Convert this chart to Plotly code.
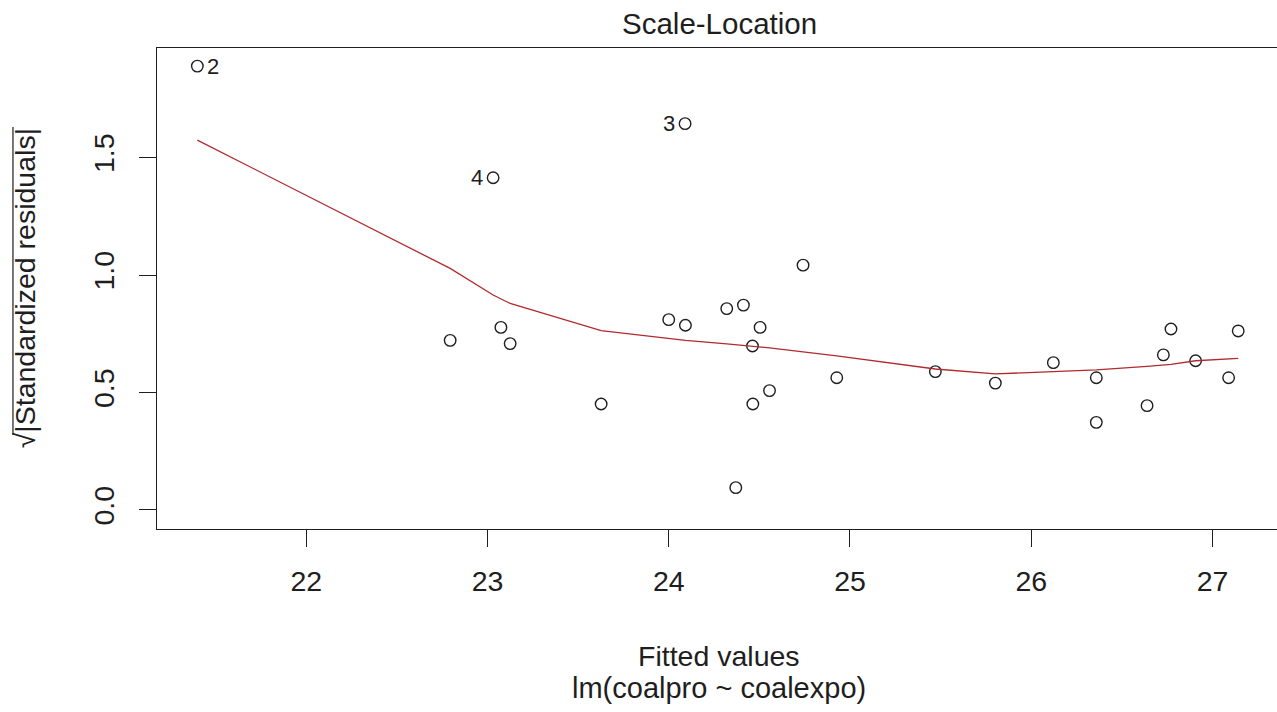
import plotly.graph_objects as go

# Fitted values and sqrt(|standardized residuals|) for lm(coalpro ~ coalexpo)
fitted = [21.399, 22.794, 23.031, 23.074, 23.125, 23.627, 24.000, 24.090, 24.092,
          24.320, 24.370, 24.412, 24.462, 24.464, 24.504, 24.556, 24.741, 24.927,
          25.471, 25.802, 26.122, 26.359, 26.359, 26.639, 26.729, 26.771, 26.907,
          27.089, 27.142]
sqrt_abs_std_resid = [1.889, 0.722, 1.414, 0.777, 0.708, 0.451, 0.810, 1.644, 0.786,
                      0.857, 0.095, 0.872, 0.698, 0.451, 0.777, 0.508, 1.042, 0.563,
                      0.589, 0.540, 0.627, 0.563, 0.373, 0.444, 0.660, 0.770, 0.635,
                      0.563, 0.762]
# lowess smoother evaluated at the sorted fitted values
smooth = [1.574, 1.028, 0.915, 0.898, 0.879, 0.763, 0.730, 0.722, 0.722,
          0.707, 0.704, 0.701, 0.698, 0.698, 0.695, 0.690, 0.673, 0.656,
          0.600, 0.579, 0.589, 0.596, 0.596, 0.611, 0.617, 0.620, 0.635,
          0.641, 0.645]

# Largest residuals, identified by case number
id_index = [0, 2, 7]
id_text = ["2", "4", "3"]
id_side = [1, -1, -1]

x_ticks = [22, 23, 24, 25, 26, 27]
y_ticks = [0.0, 0.5, 1.0, 1.5]
y_ticktext = ["0.0", "0.5", "1.0", "1.5"]

FONT = "Liberation Sans, Arial, sans-serif"
INK = "#1e1e1e"

fig = go.Figure()

fig.add_trace(go.Scatter(
    x=fitted, y=sqrt_abs_std_resid, mode="markers",
    marker=dict(symbol="circle-open", size=11.5, color=INK, line=dict(width=1.4, color=INK)),
    hoverinfo="x+y", showlegend=False,
))
fig.add_trace(go.Scatter(
    x=fitted, y=smooth, mode="lines",
    line=dict(color="#b02a2e", width=1.3),
    hoverinfo="skip", showlegend=False,
))

annotations = []
for i, t, s in zip(id_index, id_text, id_side):
    annotations.append(dict(
        x=fitted[i], y=sqrt_abs_std_resid[i], xref="x", yref="y",
        text=t, showarrow=False, xanchor="center", yanchor="middle",
        xshift=16 * s, font=dict(family=FONT, size=22, color=INK),
    ))

# Caption, axis title and model formula
annotations.append(dict(
    x=0.502, y=1, xref="paper", yref="paper", yshift=25, text="Scale-Location",
    showarrow=False, xanchor="center", yanchor="middle",
    font=dict(family=FONT, size=29.5, color=INK),
))
annotations.append(dict(
    x=0.502, y=0, xref="paper", yref="paper", yshift=-127, text="Fitted values",
    showarrow=False, xanchor="center", yanchor="middle",
    font=dict(family=FONT, size=28.5, color=INK),
))
annotations.append(dict(
    x=0.502, y=0, xref="paper", yref="paper", yshift=-159, text="lm(coalpro ~ coalexpo)",
    showarrow=False, xanchor="center", yanchor="middle",
    font=dict(family=FONT, size=29, color=INK),
))
annotations.append(dict(
    x=-0.118, y=0.5, xref="paper", yref="paper", text="√|Standardized residuals|",
    textangle=-90, showarrow=False, xanchor="center", yanchor="middle",
    font=dict(family=FONT, size=28.5, color=INK),
))

fig.update_layout(
    width=1277, height=712,
    margin=dict(l=157, r=0, t=48, b=183),
    paper_bgcolor="white", plot_bgcolor="white",
    annotations=annotations,
    shapes=[dict(type="line", xref="paper", yref="paper",
                 x0=-0.1286, x1=-0.1286, y0=0.1954, y1=0.8358,
                 line=dict(color=INK, width=1.2))],
    xaxis=dict(
        range=[21.1765, 27.356], tickmode="array", tickvals=x_ticks,
        ticks="outside", ticklen=17, tickwidth=1.2, tickcolor=INK,
        ticklabelstandoff=10,
        showline=True, linewidth=1.3, linecolor=INK, mirror=True,
        showgrid=False, zeroline=False,
        tickfont=dict(family=FONT, size=28.5, color=INK),
    ),
    yaxis=dict(
        range=[-0.0809, 1.966], tickmode="array", tickvals=y_ticks, ticktext=y_ticktext,
        tickangle=-90, ticks="outside", ticklen=17, tickwidth=1.2, tickcolor=INK,
        ticklabelstandoff=13,
        showline=True, linewidth=1.3, linecolor=INK,
        showgrid=False, zeroline=False,
        tickfont=dict(family=FONT, size=28.5, color=INK),
    ),
)

fig.write_html("out.html")
